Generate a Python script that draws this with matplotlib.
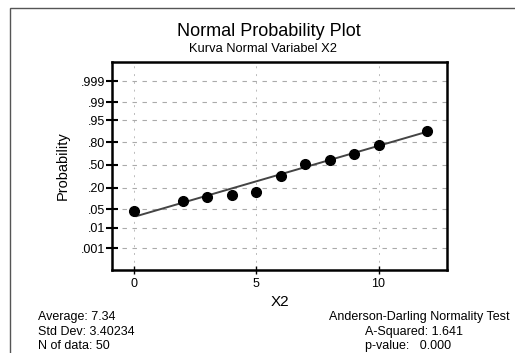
from statistics import NormalDist
import matplotlib
matplotlib.use("Agg")
from matplotlib import pyplot as plt
from matplotlib.patches import Rectangle

# data
x_values = [0, 2, 3, 4, 5, 6, 7, 8, 9, 10, 12]
probabilities = [0.045, 0.093, 0.121, 0.134, 0.159, 0.34, 0.516, 0.575, 0.66, 0.77, 0.896]
fit_x = [0.1, 12.1]
fit_prob = [0.029, 0.896]
prob_ticks = [0.001, 0.01, 0.05, 0.20, 0.50, 0.80, 0.95, 0.99, 0.999]
prob_labels = [".001", ".01", ".05", ".20", ".50", ".80", ".95", ".99", ".999"]
x_ticks = [0, 5, 10]

nd = NormalDist()


def z(p):
    return nd.inv_cdf(p)


plt.rcParams['font.family'] = ['Liberation Sans', 'DejaVu Sans']

fig = plt.figure(figsize=(5.15, 3.53), dpi=100)
# outer frame of the scanned page, runs off the right and bottom edges
fig.patches.append(Rectangle((10 / 515, -0.2), 1.2, 1.2 - 8 / 353, transform=fig.transFigure,
                             fill=False, edgecolor="#555555", linewidth=1.0))

ax = fig.add_axes([112 / 515, 1 - 270 / 353, 335 / 515, 208 / 353])

ax.plot(fit_x, [z(p) for p in fit_prob], color="#444444", linewidth=1.4, zorder=2)
ax.plot(x_values, [z(p) for p in probabilities], 'o', color="black", markersize=7, zorder=3)

ax.set_xlim(-0.9, 12.8)
ax.set_ylim(-3.89, 3.81)
ax.set_yticks([z(p) for p in prob_ticks], prob_labels)
ax.set_xticks(x_ticks, [str(t) for t in x_ticks])

ax.grid(True, axis='y', linestyle=(0, (4, 5)), color="#aaaaaa", linewidth=0.8)
ax.grid(True, axis='x', linestyle=(0, (2, 6)), color="#bbbbbb", linewidth=0.7)
ax.set_axisbelow(True)
for s in ax.spines.values():
    s.set_linewidth(1.8)

ax.tick_params(axis='y', direction='inout', length=8, width=1.5, labelsize=9, pad=1)
ax.tick_params(axis='x', direction='inout', length=6, width=1.0, labelsize=9, pad=3)

ax.set_xlabel("X2", fontsize=11, labelpad=3)
ax.set_ylabel("Probability", fontsize=10.5, labelpad=8)

fig.text(269 / 515, 1 - 32 / 353, "Normal Probability Plot", ha="center", va="center", fontsize=13)
fig.text(263 / 515, 1 - 49 / 353, "Kurva Normal Variabel X2", ha="center", va="center", fontsize=9.3)

fig.text(38 / 515, 1 - 317 / 353, "Average: 7.34", fontsize=9, va="center")
fig.text(38 / 515, 1 - 332 / 353, "Std Dev: 3.40234", fontsize=9, va="center")
fig.text(38 / 515, 1 - 346 / 353, "N of data: 50", fontsize=9, va="center")

fig.text(510 / 515, 1 - 317 / 353, "Anderson-Darling Normality Test", fontsize=9, va="center", ha="right")
fig.text(365 / 515, 1 - 332 / 353, "A-Squared: 1.641", fontsize=9, va="center", ha="left")
fig.text(365 / 515, 1 - 346 / 353, "p-value:   0.000", fontsize=9, va="center", ha="left")

fig.savefig("out.png", dpi=100)
